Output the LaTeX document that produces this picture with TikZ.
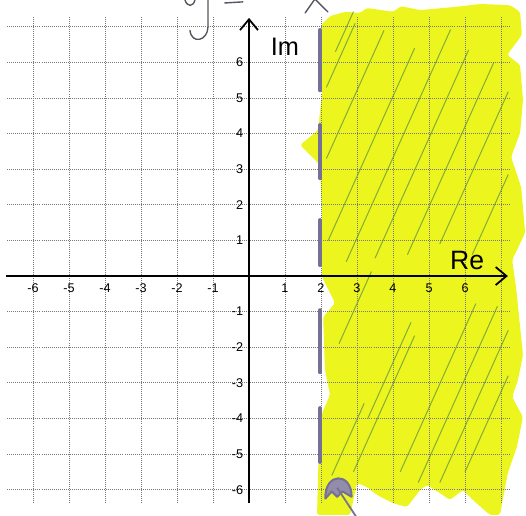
\documentclass[tikz,border=0pt]{standalone}
\usepackage{fontspec}
\setmainfont{Liberation Sans}
\usetikzlibrary{arrows.meta}
\definecolor{marker}{RGB}{236,245,30}
\definecolor{hatchgreen}{RGB}{120,165,60}
\definecolor{penmark}{RGB}{118,112,150}
\definecolor{gridgray}{RGB}{120,120,120}
\definecolor{inkgray}{RGB}{85,85,95}
\tikzset{
  gridline/.style={draw=gridgray, line width=0.6pt, densely dotted},
  axisline/.style={draw=black, line width=1.4pt, -{Straight Barb[length=3mm,width=5mm]}},
  ticklabel/.style={font=\fontsize{10}{10}\selectfont, inner sep=1pt},
  axislabel/.style={font=\fontsize{20}{20}\selectfont, inner sep=0pt},
  markerfill/.style={fill=marker, draw=none, rounded corners=2pt},
  hatchline/.style={draw=hatchgreen, line width=0.8pt, opacity=0.9},
  dashmark/.style={draw=penmark, line width=3.2pt, line cap=round},
  handwriting/.style={draw=inkgray, line width=1.1pt, line cap=round}
}
\begin{document}
\begin{tikzpicture}[x=1cm, y=0.989cm]
\useasboundingbox (-6.917,-6.713) rectangle (7.694,7.753);

\fill[markerfill] (2.00,7.05) -- (2.25,7.30) -- (2.67,7.42) -- (3.08,7.39) -- (3.28,7.53)
  -- (4.00,7.42) -- (4.22,7.58) -- (4.75,7.47) -- (5.75,7.56) -- (6.42,7.64) -- (7.25,7.61)
  -- (7.53,7.42) -- (7.58,6.77) -- (7.17,6.21) -- (7.53,5.93) -- (7.61,4.94) -- (7.53,4.02)
  -- (7.28,3.34) -- (7.56,2.50) -- (7.67,1.21) -- (7.31,0.45) -- (7.42,-0.34) -- (7.61,-2.22)
  -- (7.47,-2.92) -- (7.31,-3.40) -- (7.61,-3.96) -- (7.44,-4.80) -- (7.19,-5.53) -- (6.97,-6.71)
  -- (6.69,-6.71) -- (6.22,-6.29) -- (5.94,-6.01) -- (5.58,-6.29) -- (5.31,-6.10) -- (4.94,-5.87)
  -- (4.75,-6.01) -- (4.39,-6.49) -- (4.00,-6.38) -- (3.56,-6.15) -- (3.28,-5.93) -- (3.00,-5.81)
  -- (2.81,-6.71) -- (1.89,-6.71) -- (1.92,-5.45) -- (2.03,-3.85) -- (2.25,-3.34) -- (2.11,-2.64)
  -- (2.06,-1.15) -- (2.39,-0.76) -- (2.03,-0.03) -- (2.03,1.71) -- (1.97,3.12) -- (1.42,3.68)
  -- (1.92,4.10) -- (2.03,5.17) -- (2.00,6.91) -- cycle;

\foreach \sx/\sy/\len in {2.15/5.3/0.8, 2.15/3.3/1.6, 2.2/1.0/2.4, 2.7/0.4/2.9, 3.5/0.5/2.6,
    4.4/0.6/2.4, 5.3/0.9/1.9, 6.2/0.6/1.0, 2.4/6.3/0.5, 2.3/-5.6/0.9, 2.9/-5.5/1.7,
    3.3/-4.0/1.2, 4.2/-5.5/2.1, 4.7/-5.8/2.2, 5.3/-5.8/1.9, 6.0/-5.5/1.2, 2.5/-1.9/0.9}
  \draw[hatchline] (\sx,\sy) -- ++(\len,2.25*\len);

\foreach \k in {-6,...,-1,1,2,...,7} {
  \draw[gridline] (\k,-6.38) -- (\k,7.27);
  \draw[gridline] (-6.72,\k) -- (7.25,\k);
}

\coordinate (xstart) at (-6.75,0);
\coordinate (xend) at (7.19,0);
\coordinate (ystart) at (0,-6.38);
\coordinate (yend) at (0,7.25);
\draw[axisline] (xstart) -- (xend);
\draw[axisline] (ystart) -- (yend);

\foreach \k in {-6,...,-1,1,2,...,6} {
  \node[ticklabel] (xtick\k) at (\k,-0.33) {\k};
  \node[ticklabel, anchor=east] (ytick\k) at (-0.12,\k) {\k};
}
\node[axislabel] (imlabel) at (1.0,6.43) {Im};
\node[axislabel, font=\fontsize{21}{21}\selectfont] (relabel) at (6.06,0.45) {Re};

\foreach \a/\b in {6.91/5.22, 4.24/2.75, 1.57/0.31, -0.96/-2.70, -3.71/-5.22}
  \draw[dashmark] (1.97,\a) -- (1.97,\b);
\filldraw[draw=penmark, fill=penmark!80, line width=1.6pt, line cap=round, line join=round]
  (2.12,-6.25) .. controls (2.1,-5.5) and (2.85,-5.5) .. (2.85,-6.2)
  -- (2.6,-6.05) -- (2.45,-6.2) -- (2.3,-6.05) -- cycle;
\draw[draw=penmark, line width=1.4pt] (2.45,-5.95) -- (2.97,-6.75);

\draw[handwriting] (-1.78,7.76) .. controls (-1.72,7.55) and (-1.55,7.55) .. (-1.5,7.76);
\draw[handwriting] (-1.14,7.8) -- (-1.14,7.0) .. controls (-1.14,6.6) and (-1.6,6.5) .. (-1.64,6.9);
\draw[handwriting] (-0.67,7.67) -- (-0.17,7.70);
\draw[handwriting] (1.56,7.39) .. controls (1.7,7.6) .. (1.83,7.78) .. controls (2.0,7.6) .. (2.19,7.42);
\end{tikzpicture}
\end{document}
